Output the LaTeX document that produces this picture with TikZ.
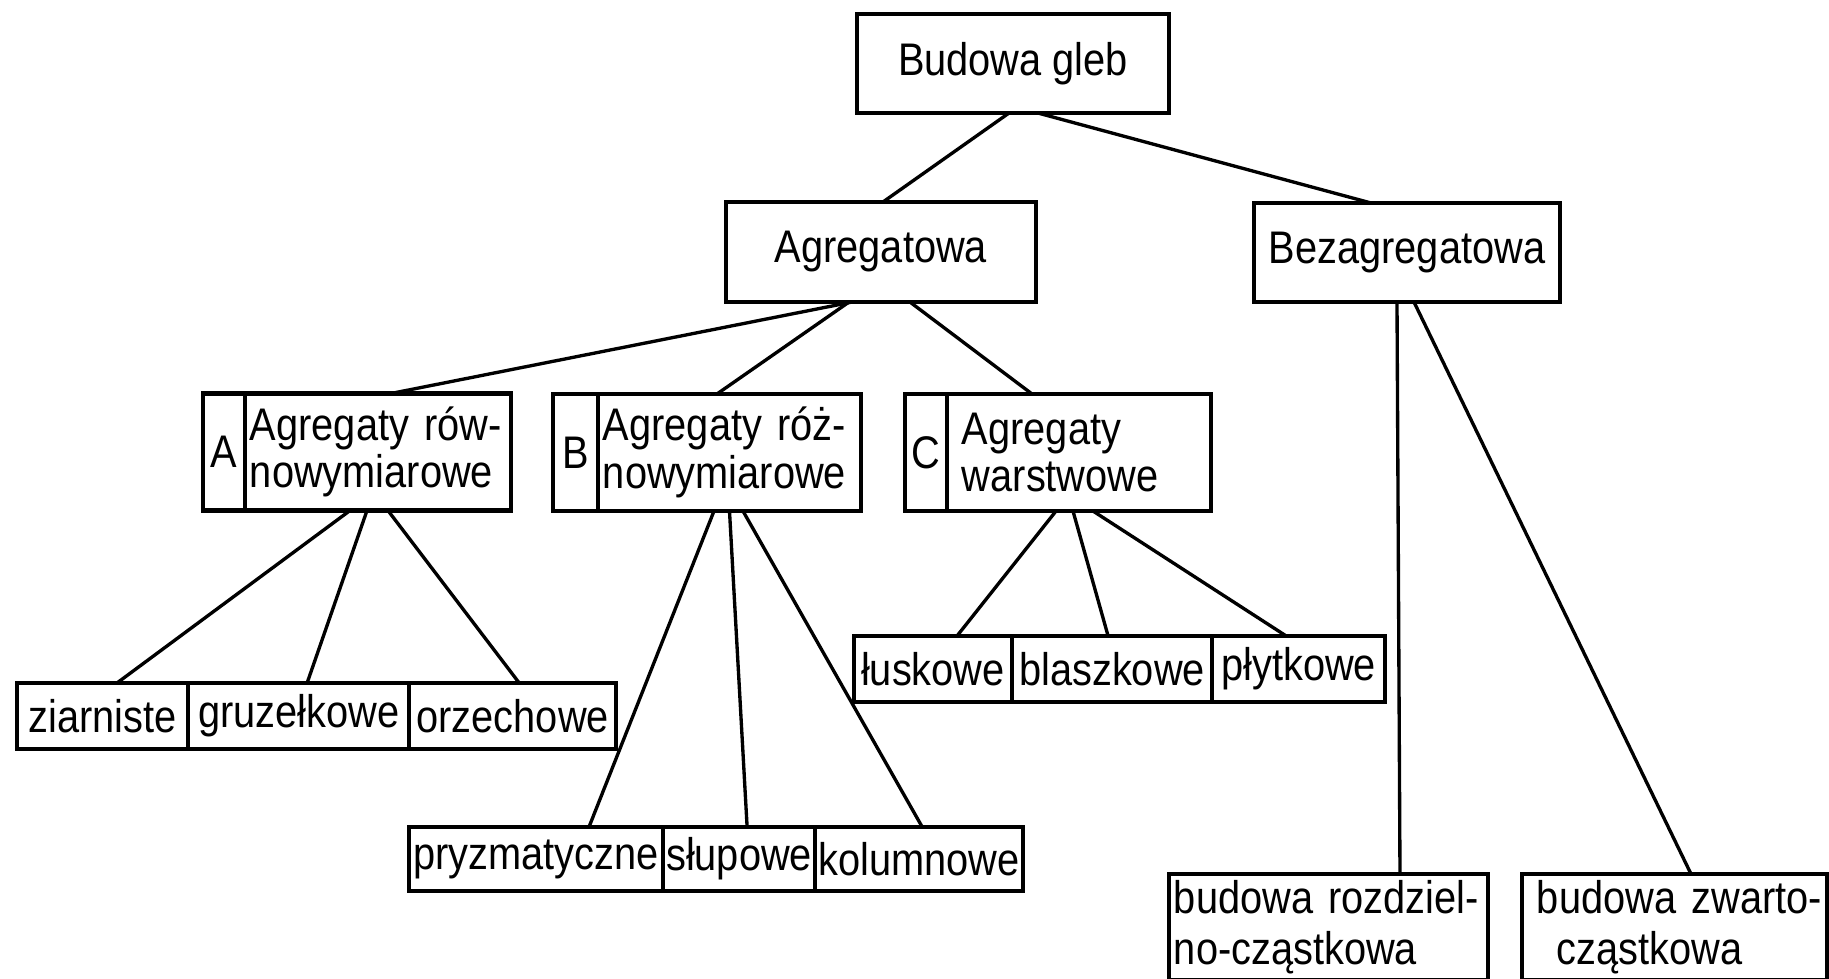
\documentclass[tikz,border=0pt]{standalone}
\usepackage{fontspec}
\setmainfont{Liberation Sans}[FakeStretch=0.87]
\usetikzlibrary{positioning,calc}

\begin{document}
\begin{tikzpicture}[x=0.01cm,y=-0.01cm,
  box/.style={draw,line width=1.2pt,inner sep=0pt,outer sep=0pt,
    font=\fontsize{13}{13.5}\selectfont},
  twoline/.style={box,align=left,inner xsep=0.05cm,text width=#1},
  link/.style={line width=0.95pt}]
\useasboundingbox (0,0) rectangle (1829,978);
\clip (0,0) rectangle (1829,978);

% first levels
\node[box,minimum width=3.12cm,minimum height=0.99cm] (gleb) at (1013,63.5) {Budowa gleb};
\node[box,minimum width=3.10cm,minimum height=1.00cm] (agr) at (881,252) {Agregatowa};
\node[box,minimum width=3.06cm,minimum height=0.99cm] (bez) at (1407,252.5) {Bezagregatowa};

% aggregate groups
\node[twoline=2.56cm,minimum height=1.17cm] (aA) at (378,452) {Agregaty rów-\\nowymiarowe};
\node[box,left=0pt of aA,minimum width=0.42cm,minimum height=1.17cm] (lA) {A};
\node[twoline=2.53cm,minimum height=1.17cm] (aB) at (729.5,452.5) {Agregaty róż-\\nowymiarowe};
\node[box,left=0pt of aB,minimum width=0.45cm,minimum height=1.17cm] (lB) {B};
\node[twoline=2.54cm,minimum height=1.17cm] (aC) at (1079,452.5) {\hspace*{0.1cm}Agregaty\\\hspace*{0.1cm}warstwowe};
\node[box,left=0pt of aC,minimum width=0.42cm,minimum height=1.17cm] (lC) {C};

% kinds
\node[box,minimum width=1.71cm,minimum height=0.66cm] (ziar) at (102.5,716) {ziarniste};
\node[box,right=0pt of ziar,minimum width=2.21cm,minimum height=0.66cm] (gruz) {gruzełkowe};
\node[box,right=0pt of gruz,minimum width=2.07cm,minimum height=0.66cm] (orze) {orzechowe};

\node[box,minimum width=2.54cm,minimum height=0.64cm] (pryz) at (536,859) {pryzmatyczne};
\node[box,right=0pt of pryz,minimum width=1.52cm,minimum height=0.64cm] (slup) {słupowe};
\node[box,right=0pt of slup,minimum width=2.08cm,minimum height=0.64cm] (kolu) {kolumnowe};

\node[box,minimum width=1.58cm,minimum height=0.66cm] (lusk) at (933,669) {łuskowe};
\node[box,right=0pt of lusk,minimum width=2.00cm,minimum height=0.66cm] (blas) {blaszkowe};
\node[box,right=0pt of blas,minimum width=1.73cm,minimum height=0.66cm] (plyt) {płytkowe};

\node[twoline=3.09cm,minimum height=1.06cm,font=\fontsize{13}{14.5}\selectfont] (rozd) at (1328.5,927) {budowa rozdziel-\\no-cząstkowa};
\node[twoline=2.95cm,minimum height=1.06cm,font=\fontsize{13}{14.5}\selectfont] (zwar) at (1674.5,927) {\hspace*{0.1cm}budowa zwarto-\\\hspace*{0.3cm}cząstkowa};

% connectors
\draw[link] ($(gleb.south)+(-4,0)$) -- ($(agr.north)+(2,0)$);
\draw[link] ($(gleb.south)+(25,0)$) -- ($(bez.north)+(-36,0)$);
\draw[link] ($(agr.south)+(-29,0)$) -- ($(aA.north)+(13,0)$);
\draw[link] ($(agr.south)+(-32,0)$) -- ($(aB.north)+(-12.5,0)$);
\draw[link] ($(agr.south)+(29,0)$) -- ($(aC.north)+(-47,0)$);
\draw[link] ($(bez.south)+(-10,0)$) -- ($(rozd.north)+(71.5,0)$);
\draw[link] ($(bez.south)+(7,0)$) -- ($(zwar.north)+(16.5,0)$);

\draw[link] ($(aA.south)+(-28,0)$) -- ($(ziar.north)+(14.5,0)$);
\draw[link] ($(aA.south)+(-11,0)$) -- ($(gruz.north)+(8.5,0)$);
\draw[link] ($(aA.south)+(10,0)$) -- ($(orze.north)+(6.5,0)$);

\draw[link] ($(aB.south)+(-15.5,0)$) -- ($(pryz.north)+(53,0)$);
\draw[link] ($(aB.south)+(0,0)$) -- ($(slup.north)+(8,0)$);
\draw[link] ($(aB.south)+(13.5,0)$) -- ($(kolu.north)+(3,0)$);

\draw[link] ($(aC.south)+(-23,0)$) -- ($(lusk.north)+(24,0)$);
\draw[link] ($(aC.south)+(-6,0)$) -- ($(blas.north)+(-4,0)$);
\draw[link] ($(aC.south)+(14,0)$) -- ($(plyt.north)+(-12.5,0)$);
\end{tikzpicture}
\end{document}
